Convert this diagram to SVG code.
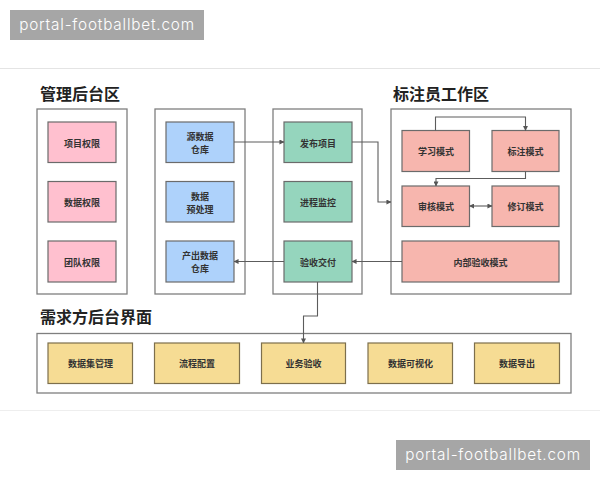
<svg xmlns="http://www.w3.org/2000/svg" width="600" height="480" viewBox="0 0 600 480">
<style>
text{font-family:"Liberation Sans","Noto Sans CJK SC",sans-serif;text-anchor:middle}
.panel{fill:#fff;stroke:#7f7f7f;stroke-width:1.3}
.n{stroke:#6b6b6b;stroke-width:1.2}
.pink{fill:#ffc0cf}.blue{fill:#aed2fb}.green{fill:#95d5bd}.red{fill:#f7b6ae}.yellow{fill:#f6dc94}
.yellow{stroke:#7d6f4c}
.lbl{font-family:"Noto Sans CJK SC",sans-serif;font-size:9px;font-weight:700;fill:#333}
.title{font-family:"Noto Sans CJK SC",sans-serif;font-size:16px;font-weight:700;fill:#222;text-anchor:start}
.wm{font-family:"Inter","Liberation Sans",sans-serif;font-size:15.300px;font-weight:300;fill:#fff;letter-spacing:.8px}
.c{fill:none;stroke:#5c5c5c;stroke-width:1.1}
</style>
<defs>
<marker id="a" viewBox="0 0 6 6" refX="5.500" refY="3" markerWidth="5" markerHeight="5" markerUnits="userSpaceOnUse" orient="auto-start-reverse"><path d="M0 0L6 3L0 6Z" fill="#555"/></marker>
</defs>
<rect width="600" height="480" fill="#fff"/>
<path d="M0 68.500H600" stroke="#e4e4e4" stroke-width="1"/>
<path d="M0 410.500H600" stroke="#eeeeee" stroke-width="1"/>
<g id="wm1"><rect x="10" y="10" width="194" height="30" fill="#a6a6a6"/><text class="wm" x="107" y="30">portal-footballbet.com</text></g>
<g id="wm2"><rect x="396" y="440" width="194" height="30" fill="#a6a6a6"/><text class="wm" x="493" y="460">portal-footballbet.com</text></g>
<text class="title" x="40" y="99.500">管理后台区</text>
<text class="title" x="393" y="99.500">标注员工作区</text>
<text class="title" x="40" y="323">需求方后台界面</text>
<g id="panels">
<rect class="panel" x="37" y="109" width="90" height="185"/>
<rect class="panel" x="155" y="109" width="90" height="185"/>
<rect class="panel" x="273" y="109" width="89" height="185"/>
<rect class="panel" x="391" y="109" width="180" height="185"/>
<rect class="panel" x="37" y="333.500" width="534" height="59.500"/>
</g>
<g id="n1"><rect class="n pink" x="48" y="122" width="68" height="40.500"/><text class="lbl" x="82" y="146.500">项目权限</text></g>
<g id="n2"><rect class="n pink" x="48" y="181.500" width="68" height="40.500"/><text class="lbl" x="82" y="206">数据权限</text></g>
<g id="n3"><rect class="n pink" x="48" y="241" width="68" height="41"/><text class="lbl" x="82" y="265.500">团队权限</text></g>
<g id="n4"><rect class="n blue" x="166" y="122" width="68" height="40.500"/><text class="lbl" x="200" y="140">源数据</text><text class="lbl" x="200" y="153">仓库</text></g>
<g id="n5"><rect class="n blue" x="166" y="181.500" width="68" height="40.500"/><text class="lbl" x="200" y="200">数据</text><text class="lbl" x="200" y="213">预处理</text></g>
<g id="n6"><rect class="n blue" x="166" y="241" width="68" height="41"/><text class="lbl" x="200" y="259">产出数据</text><text class="lbl" x="200" y="272">仓库</text></g>
<g id="n7"><rect class="n green" x="284" y="122" width="68" height="40.500"/><text class="lbl" x="318" y="146.500">发布项目</text></g>
<g id="n8"><rect class="n green" x="284" y="181.500" width="68" height="40.500"/><text class="lbl" x="318" y="206">进程监控</text></g>
<g id="n9"><rect class="n green" x="284" y="241" width="68" height="41"/><text class="lbl" x="318" y="265.500">验收交付</text></g>
<g id="n10"><rect class="n red" x="402" y="130.500" width="67.500" height="41"/><text class="lbl" x="436" y="155">学习模式</text></g>
<g id="n11"><rect class="n red" x="492" y="130.500" width="67" height="41"/><text class="lbl" x="525.500" y="155">标注模式</text></g>
<g id="n12"><rect class="n red" x="402" y="186" width="67.500" height="40.500"/><text class="lbl" x="436" y="210">审核模式</text></g>
<g id="n13"><rect class="n red" x="492" y="186" width="67" height="40.500"/><text class="lbl" x="525.500" y="210">修订模式</text></g>
<g id="n14"><rect class="n red" x="402" y="241" width="157" height="41"/><text class="lbl" x="480.500" y="265.500">内部验收模式</text></g>
<g id="n15"><rect class="n yellow" x="48" y="343" width="84.500" height="40.500"/><text class="lbl" x="90.500" y="367">数据集管理</text></g>
<g id="n16"><rect class="n yellow" x="154.500" y="343" width="85" height="40.500"/><text class="lbl" x="197" y="367">流程配置</text></g>
<g id="n17"><rect class="n yellow" x="261.500" y="343" width="84" height="40.500"/><text class="lbl" x="303.500" y="367">业务验收</text></g>
<g id="n18"><rect class="n yellow" x="368" y="343" width="84.500" height="40.500"/><text class="lbl" x="410.500" y="367">数据可视化</text></g>
<g id="n19"><rect class="n yellow" x="474.500" y="343" width="85" height="40.500"/><text class="lbl" x="517" y="367">数据导出</text></g>
<g id="connectors">
<path class="c" d="M234 142H284" marker-end="url(#a)"/>
<path class="c" d="M352 142H378V202H391" marker-end="url(#a)"/>
<path class="c" d="M435.500 130.500V117H525.500V130.500" marker-end="url(#a)"/>
<path class="c" d="M525.500 171.500V178.500H436V186" marker-end="url(#a)"/>
<path class="c" d="M469.500 206H492" marker-start="url(#a)" marker-end="url(#a)"/>
<path class="c" d="M402 261.500H352" marker-end="url(#a)"/>
<path class="c" d="M284 261.500H234" marker-end="url(#a)"/>
<path class="c" d="M317.500 282V316H303.500V343" marker-end="url(#a)"/>
</g>
</svg>
